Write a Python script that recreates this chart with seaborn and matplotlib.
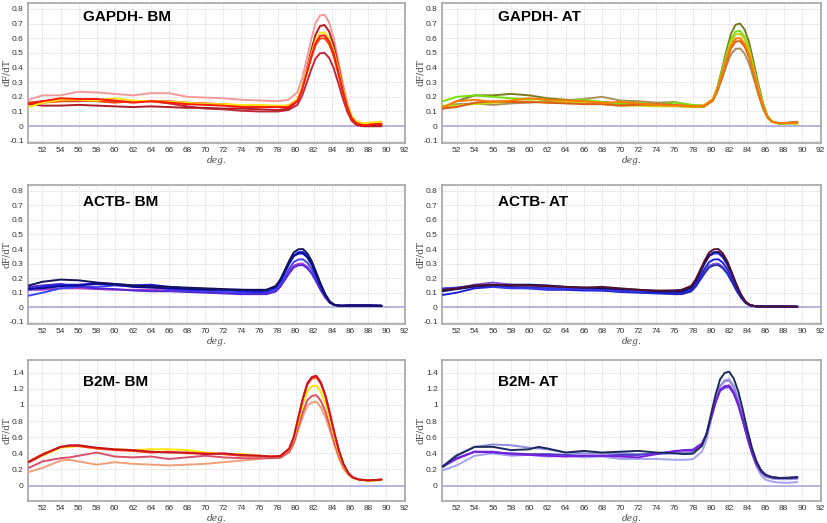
import matplotlib
matplotlib.use("Agg")
import matplotlib.pyplot as plt
import pandas as pd
import seaborn as sns

# ---- temperature grids (deg.) ----
T_GAPDH = [50.5, 52, 54, 56, 58, 60, 62, 64, 66, 68, 70, 72, 74, 76, 78,
           79.2, 80.2, 80.7, 81.2, 81.7, 82.2, 82.7, 83.2, 83.7, 84.2, 84.7, 85.2, 85.7, 86.2, 86.7,
           87.5, 88.5, 89.5]
T_ACTB = [50.5, 52, 54, 56, 58, 60, 62, 64, 66, 68, 70, 72, 74, 76,
          76.8, 77.8, 78.3, 78.8, 79.3, 79.8, 80.3, 80.8, 81.3, 81.8, 82.3, 82.8, 83.3, 83.8, 84.3,
          85, 86, 88, 89.5]
T_B2M_BM = [50.5, 52, 54, 55, 56, 58, 60, 62, 64, 66, 68, 70, 72, 74, 76, 77.3,
            78.3, 79.3, 79.8, 80.3, 80.8, 81.3, 81.8, 82.3, 82.8, 83.3, 83.8, 84.3, 84.8, 85.3, 85.8, 86.3,
            87, 88, 89, 89.5]
T_B2M_AT = [50.5, 52, 54, 56, 58, 60, 61, 62, 64, 66, 68, 70, 72, 74, 76, 77,
            78, 79, 79.5, 80, 80.5, 81, 81.5, 82, 82.5, 83, 83.5, 84, 84.5, 85, 85.5, 86,
            86.7, 87.5, 88.5, 89.5]

# ---- GAPDH - BM ----
gapdh_bm_pink = [0.18, 0.21, 0.21, 0.235, 0.23, 0.22, 0.21, 0.225, 0.225, 0.20, 0.195, 0.19, 0.18, 0.175, 0.17,
                 0.18, 0.231, 0.321, 0.449, 0.585, 0.701, 0.755, 0.76, 0.708, 0.606, 0.456, 0.299, 0.161, 0.065, 0.023,
                 0.003, 0.01, 0.012]
gapdh_bm_brick = [0.16, 0.17, 0.17, 0.17, 0.18, 0.165, 0.17, 0.17, 0.155, 0.135, 0.12, 0.115, 0.105, 0.10, 0.10,
                  0.11, 0.145, 0.205, 0.29, 0.382, 0.46, 0.497, 0.50, 0.466, 0.398, 0.298, 0.194, 0.101, 0.037, 0.009,
                  0.0, 0.0, 0.0]
gapdh_bm_darkred = [0.15, 0.14, 0.14, 0.145, 0.14, 0.135, 0.13, 0.135, 0.13, 0.125, 0.125, 0.12, 0.12, 0.115, 0.11,
                    0.12, 0.169, 0.255, 0.378, 0.509, 0.623, 0.683, 0.69, 0.647, 0.555, 0.417, 0.272, 0.143, 0.051, 0.013,
                    0.0, 0.0, 0.0]
gapdh_bm_yellow = [0.13, 0.16, 0.18, 0.18, 0.175, 0.19, 0.175, 0.17, 0.165, 0.16, 0.15, 0.15, 0.145, 0.145, 0.14,
                   0.14, 0.184, 0.260, 0.368, 0.483, 0.583, 0.635, 0.64, 0.600, 0.519, 0.396, 0.266, 0.151, 0.071, 0.036,
                   0.02, 0.025, 0.03]
gapdh_bm_orange = [0.16, 0.16, 0.17, 0.175, 0.17, 0.16, 0.17, 0.17, 0.17, 0.16, 0.155, 0.15, 0.14, 0.14, 0.135,
                   0.14, 0.181, 0.252, 0.354, 0.46, 0.552, 0.597, 0.60, 0.56, 0.48, 0.362, 0.238, 0.13, 0.053, 0.02,
                   0.008, 0.015, 0.02]
gapdh_bm_red = [0.15, 0.17, 0.19, 0.185, 0.185, 0.175, 0.16, 0.17, 0.16, 0.15, 0.145, 0.14, 0.13, 0.13, 0.13,
                0.13, 0.173, 0.247, 0.354, 0.467, 0.565, 0.615, 0.62, 0.58, 0.498, 0.376, 0.248, 0.135, 0.055, 0.021,
                0.005, 0.012, 0.015]

# ---- GAPDH - AT ----
gapdh_at_khaki = [0.12, 0.15, 0.155, 0.145, 0.155, 0.16, 0.17, 0.175, 0.185, 0.20, 0.175, 0.17, 0.16, 0.165, 0.14,
                  0.14, 0.175, 0.236, 0.322, 0.413, 0.491, 0.527, 0.53, 0.494, 0.425, 0.323, 0.216, 0.122, 0.057, 0.029,
                  0.02, 0.025, 0.03]
gapdh_at_olive = [0.12, 0.17, 0.21, 0.21, 0.22, 0.21, 0.19, 0.18, 0.17, 0.165, 0.15, 0.15, 0.14, 0.14, 0.13,
                  0.13, 0.179, 0.264, 0.386, 0.516, 0.63, 0.692, 0.70, 0.659, 0.569, 0.433, 0.289, 0.161, 0.071, 0.033,
                  0.018, 0.02, 0.025]
gapdh_at_green = [0.17, 0.20, 0.21, 0.20, 0.19, 0.185, 0.18, 0.17, 0.18, 0.165, 0.155, 0.16, 0.145, 0.16, 0.145,
                  0.14, 0.185, 0.262, 0.372, 0.49, 0.592, 0.645, 0.65, 0.609, 0.526, 0.40, 0.266, 0.148, 0.067, 0.031,
                  0.015, 0.018, 0.02]
gapdh_at_lime = [0.14, 0.14, 0.15, 0.16, 0.165, 0.17, 0.16, 0.165, 0.16, 0.15, 0.14, 0.14, 0.135, 0.135, 0.13,
                 0.13, 0.173, 0.249, 0.356, 0.471, 0.571, 0.625, 0.63, 0.592, 0.51, 0.388, 0.26, 0.145, 0.065, 0.031,
                 0.02, 0.02, 0.015]
gapdh_at_rust = [0.12, 0.13, 0.16, 0.17, 0.165, 0.165, 0.16, 0.155, 0.15, 0.15, 0.14, 0.145, 0.15, 0.145, 0.135,
                 0.135, 0.174, 0.243, 0.339, 0.443, 0.531, 0.577, 0.58, 0.542, 0.468, 0.356, 0.238, 0.134, 0.061, 0.03,
                 0.02, 0.022, 0.025]
gapdh_at_orange = [0.13, 0.17, 0.18, 0.165, 0.175, 0.19, 0.18, 0.175, 0.17, 0.16, 0.165, 0.155, 0.145, 0.14, 0.135,
                   0.14, 0.181, 0.251, 0.351, 0.458, 0.55, 0.597, 0.60, 0.561, 0.484, 0.368, 0.245, 0.137, 0.063, 0.03,
                   0.02, 0.022, 0.025]

# ---- ACTB - BM ----
actb_bm_magenta = [0.12, 0.12, 0.13, 0.13, 0.125, 0.12, 0.12, 0.12, 0.115, 0.11, 0.105, 0.10, 0.10, 0.095,
                   0.10, 0.119, 0.151, 0.198, 0.246, 0.286, 0.298, 0.30, 0.277, 0.236, 0.178, 0.118, 0.067, 0.031, 0.015,
                   0.01, 0.012, 0.012, 0.01]
actb_bm_royal = [0.08, 0.10, 0.13, 0.14, 0.14, 0.15, 0.145, 0.14, 0.125, 0.115, 0.11, 0.105, 0.10, 0.10,
                 0.10, 0.121, 0.157, 0.211, 0.265, 0.311, 0.328, 0.33, 0.306, 0.261, 0.197, 0.131, 0.073, 0.033, 0.015,
                 0.01, 0.012, 0.012, 0.01]
actb_bm_violet = [0.14, 0.15, 0.16, 0.14, 0.13, 0.125, 0.115, 0.11, 0.11, 0.105, 0.10, 0.095, 0.09, 0.09,
                  0.09, 0.108, 0.14, 0.187, 0.234, 0.274, 0.288, 0.29, 0.268, 0.23, 0.174, 0.115, 0.066, 0.03, 0.015,
                  0.01, 0.012, 0.012, 0.01]
actb_bm_blue = [0.12, 0.14, 0.155, 0.155, 0.165, 0.16, 0.15, 0.155, 0.14, 0.13, 0.125, 0.12, 0.11, 0.105,
                0.11, 0.135, 0.177, 0.238, 0.303, 0.357, 0.378, 0.38, 0.352, 0.301, 0.227, 0.15, 0.083, 0.037, 0.016,
                0.01, 0.012, 0.012, 0.01]
actb_bm_dark = [0.13, 0.13, 0.145, 0.15, 0.16, 0.155, 0.14, 0.135, 0.13, 0.125, 0.12, 0.12, 0.12, 0.115,
                0.12, 0.143, 0.183, 0.242, 0.302, 0.352, 0.368, 0.37, 0.342, 0.29, 0.218, 0.144, 0.081, 0.035, 0.016,
                0.01, 0.012, 0.012, 0.01]
actb_bm_navy = [0.15, 0.175, 0.19, 0.185, 0.17, 0.16, 0.15, 0.145, 0.14, 0.135, 0.13, 0.125, 0.12, 0.12,
                0.12, 0.146, 0.19, 0.255, 0.321, 0.377, 0.398, 0.40, 0.37, 0.315, 0.237, 0.157, 0.088, 0.038, 0.017,
                0.01, 0.012, 0.012, 0.01]

# ---- ACTB - AT ----
actb_at_purple = [0.12, 0.13, 0.155, 0.17, 0.155, 0.145, 0.14, 0.135, 0.13, 0.125, 0.115, 0.11, 0.10, 0.095,
                  0.10, 0.119, 0.151, 0.198, 0.246, 0.286, 0.298, 0.30, 0.277, 0.236, 0.178, 0.118, 0.067, 0.031, 0.013,
                  0.006, 0.005, 0.005, 0.004]
actb_at_indigo = [0.125, 0.125, 0.14, 0.15, 0.14, 0.135, 0.13, 0.125, 0.12, 0.115, 0.105, 0.10, 0.095, 0.09,
                  0.09, 0.108, 0.14, 0.187, 0.234, 0.274, 0.288, 0.29, 0.268, 0.23, 0.174, 0.115, 0.066, 0.03, 0.013,
                  0.006, 0.005, 0.005, 0.004]
actb_at_blue = [0.085, 0.10, 0.13, 0.14, 0.135, 0.13, 0.12, 0.12, 0.115, 0.115, 0.11, 0.105, 0.10, 0.10,
                0.10, 0.121, 0.157, 0.211, 0.265, 0.311, 0.328, 0.33, 0.306, 0.261, 0.197, 0.131, 0.073, 0.033, 0.013,
                0.006, 0.005, 0.005, 0.004]
actb_at_royal = [0.13, 0.135, 0.15, 0.14, 0.13, 0.13, 0.125, 0.13, 0.125, 0.12, 0.115, 0.11, 0.11, 0.115,
                 0.12, 0.143, 0.183, 0.242, 0.302, 0.352, 0.368, 0.37, 0.342, 0.29, 0.218, 0.144, 0.081, 0.035, 0.014,
                 0.006, 0.005, 0.005, 0.004]
actb_at_navy = [0.11, 0.125, 0.145, 0.15, 0.155, 0.155, 0.15, 0.14, 0.135, 0.13, 0.125, 0.12, 0.11, 0.11,
                0.11, 0.135, 0.177, 0.238, 0.303, 0.357, 0.378, 0.38, 0.352, 0.301, 0.227, 0.15, 0.083, 0.037, 0.014,
                0.006, 0.005, 0.005, 0.004]
actb_at_maroon = [0.12, 0.13, 0.15, 0.155, 0.15, 0.15, 0.145, 0.14, 0.135, 0.14, 0.13, 0.12, 0.115, 0.115,
                  0.12, 0.146, 0.19, 0.255, 0.321, 0.377, 0.398, 0.40, 0.37, 0.315, 0.237, 0.157, 0.088, 0.038, 0.015,
                  0.006, 0.005, 0.005, 0.004]

# ---- B2M - BM ----
b2m_bm_salmon = [0.17, 0.22, 0.31, 0.32, 0.30, 0.26, 0.29, 0.27, 0.26, 0.25, 0.26, 0.27, 0.29, 0.31, 0.33, 0.35,
                 0.344, 0.413, 0.516, 0.691, 0.858, 0.99, 1.03, 1.04, 0.97, 0.848, 0.679, 0.495, 0.337, 0.214, 0.137, 0.095,
                 0.075, 0.065, 0.07, 0.075]
b2m_bm_rose = [0.22, 0.30, 0.34, 0.35, 0.37, 0.41, 0.36, 0.35, 0.36, 0.33, 0.35, 0.37, 0.35, 0.34, 0.34, 0.34,
               0.345, 0.42, 0.533, 0.727, 0.911, 1.058, 1.11, 1.12, 1.047, 0.917, 0.734, 0.534, 0.362, 0.228, 0.143, 0.097,
               0.075, 0.065, 0.07, 0.075]
b2m_bm_yellow = [0.29, 0.37, 0.47, 0.48, 0.49, 0.46, 0.45, 0.44, 0.45, 0.45, 0.44, 0.41, 0.39, 0.39, 0.37, 0.36,
                 0.365, 0.449, 0.577, 0.793, 1.002, 1.167, 1.228, 1.24, 1.16, 1.016, 0.812, 0.59, 0.397, 0.247, 0.152, 0.101,
                 0.072, 0.06, 0.065, 0.07]
b2m_bm_red = [0.30, 0.39, 0.48, 0.49, 0.49, 0.46, 0.44, 0.43, 0.41, 0.42, 0.40, 0.40, 0.39, 0.37, 0.37, 0.36,
              0.366, 0.458, 0.599, 0.837, 1.068, 1.252, 1.325, 1.34, 1.258, 1.102, 0.881, 0.639, 0.428, 0.264, 0.16, 0.104,
              0.075, 0.065, 0.07, 0.075]
b2m_bm_darkred = [0.29, 0.38, 0.48, 0.50, 0.50, 0.47, 0.45, 0.44, 0.42, 0.41, 0.41, 0.39, 0.40, 0.38, 0.37, 0.36,
                  0.366, 0.46, 0.603, 0.846, 1.081, 1.269, 1.345, 1.36, 1.277, 1.119, 0.895, 0.649, 0.434, 0.268, 0.162, 0.104,
                  0.075, 0.065, 0.07, 0.075]

# ---- B2M - AT ----
b2m_at_lavender = [0.19, 0.25, 0.37, 0.40, 0.37, 0.38, 0.37, 0.36, 0.37, 0.35, 0.36, 0.33, 0.33, 0.33, 0.32, 0.32,
                   0.326, 0.42, 0.562, 0.805, 1.039, 1.228, 1.305, 1.32, 1.238, 1.081, 0.86, 0.616, 0.402, 0.237, 0.131, 0.074,
                   0.05, 0.037, 0.035, 0.045]
b2m_at_lilac = [0.24, 0.38, 0.48, 0.51, 0.50, 0.47, 0.46, 0.45, 0.41, 0.40, 0.40, 0.40, 0.39, 0.39, 0.40, 0.41,
                0.415, 0.502, 0.632, 0.854, 1.067, 1.235, 1.29, 1.30, 1.214, 1.059, 0.847, 0.617, 0.417, 0.262, 0.164, 0.112,
                0.088, 0.08, 0.08, 0.085]
b2m_at_violet = [0.23, 0.34, 0.42, 0.41, 0.40, 0.39, 0.39, 0.39, 0.38, 0.37, 0.37, 0.38, 0.38, 0.40, 0.42, 0.44,
                 0.445, 0.523, 0.639, 0.838, 1.026, 1.173, 1.212, 1.22, 1.136, 0.992, 0.797, 0.586, 0.405, 0.265, 0.176, 0.129,
                 0.105, 0.095, 0.10, 0.105]
b2m_at_purple = [0.24, 0.33, 0.42, 0.42, 0.39, 0.38, 0.375, 0.37, 0.36, 0.37, 0.37, 0.36, 0.35, 0.39, 0.43, 0.435,
                 0.435, 0.515, 0.635, 0.839, 1.034, 1.186, 1.232, 1.24, 1.156, 1.012, 0.813, 0.598, 0.412, 0.269, 0.178, 0.129,
                 0.105, 0.095, 0.095, 0.10]
b2m_at_navy = [0.24, 0.37, 0.48, 0.48, 0.44, 0.45, 0.48, 0.46, 0.41, 0.43, 0.41, 0.42, 0.43, 0.41, 0.40, 0.39,
               0.396, 0.492, 0.637, 0.886, 1.124, 1.316, 1.395, 1.41, 1.326, 1.166, 0.939, 0.688, 0.47, 0.301, 0.193, 0.135,
               0.105, 0.095, 0.095, 0.105]

SMALL_TICKS = [-0.1, 0, 0.1, 0.2, 0.3, 0.4, 0.5, 0.6, 0.7, 0.8]
SMALL_LABELS = ["-0.1", "0", "0.1", "0.2", "0.3", "0.4", "0.5", "0.6", "0.7", "0.8"]
BIG_TICKS = [0, 0.2, 0.4, 0.6, 0.8, 1.0, 1.2, 1.4]
BIG_LABELS = ["0", "0.2", "0.4", "0.6", "0.8", "1", "1.2", "1.4"]
X_TICKS = list(range(52, 93, 2))

panels = [
    ("GAPDH- BM", T_GAPDH, [(gapdh_bm_pink, "#f29a9a"), (gapdh_bm_brick, "#c0283a"), (gapdh_bm_darkred, "#b01c24"),
                           (gapdh_bm_orange, "#f04a10"), (gapdh_bm_yellow, "#ffe61a"), (gapdh_bm_red, "#ff1a00")]),
    ("GAPDH- AT", T_GAPDH, [(gapdh_at_khaki, "#a89058"), (gapdh_at_olive, "#7d7a1e"), (gapdh_at_green, "#78e010"),
                           (gapdh_at_lime, "#c2d810"), (gapdh_at_rust, "#e05a18"), (gapdh_at_orange, "#ff7a00")]),
    ("ACTB- BM", T_ACTB, [(actb_bm_magenta, "#b43cc8"), (actb_bm_royal, "#3c46ff"), (actb_bm_violet, "#5028d8"),
                         (actb_bm_blue, "#1e1ee0"), (actb_bm_dark, "#0a0a9a"), (actb_bm_navy, "#14145a")]),
    ("ACTB- AT", T_ACTB, [(actb_at_purple, "#7a5ad0"), (actb_at_indigo, "#2a2ab0"), (actb_at_blue, "#2020d8"),
                         (actb_at_royal, "#3a3af0"), (actb_at_navy, "#101068"), (actb_at_maroon, "#50102e")]),
    ("B2M- BM", T_B2M_BM, [(b2m_bm_salmon, "#f0a078"), (b2m_bm_rose, "#d8506a"), (b2m_bm_yellow, "#ffe600"),
                          (b2m_bm_red, "#ff3a1a"), (b2m_bm_darkred, "#c8141e")]),
    ("B2M- AT", T_B2M_AT, [(b2m_at_lavender, "#a4a4ee"), (b2m_at_lilac, "#8c8cd8"), (b2m_at_violet, "#4c3cc8"),
                          (b2m_at_purple, "#7a1ee0"), (b2m_at_navy, "#1c2a5c")]),
]

sns.set_style("whitegrid", {"grid.color": "#cfcfcf", "grid.linestyle": ":", "axes.edgecolor": "#a6a6a6"})
plt.rcParams["font.family"] = ["Liberation Sans", "DejaVu Sans"]

fig = plt.figure(figsize=(8.27, 5.23), dpi=100)
W, H = 827.0, 523.0
cols = [(28, 405), (442, 821)]
rows = [(3, 143), (185, 324), (360, 501)]

for i, (title, temps, curves) in enumerate(panels):
    r, c = divmod(i, 2)
    x0, x1 = cols[c]
    y0, y1 = rows[r]
    ax = fig.add_axes([x0 / W, 1 - y1 / H, (x1 - x0) / W, (y1 - y0) / H])

    frames = []
    palette = {}
    for k, (vals, color) in enumerate(curves):
        name = f"run{k}"
        frames.append(pd.DataFrame({"deg": temps, "dFdT": vals, "run": name}))
        palette[name] = color
    df = pd.concat(frames, ignore_index=True)

    ax.axhline(0, color="#a9a9dc", lw=1.2, zorder=1)
    sns.lineplot(data=df, x="deg", y="dFdT", hue="run", palette=palette, estimator=None,
                 sort=False, legend=False, lw=1.4, ax=ax, zorder=3)

    ax.set_xlim(50.4, 92.1)
    ax.set_xticks(X_TICKS)
    ax.set_xticklabels([str(t) for t in X_TICKS])
    if r < 2:
        ax.set_ylim(-0.115, 0.84)
        ax.set_yticks(SMALL_TICKS)
        ax.set_yticklabels(SMALL_LABELS)
    else:
        ax.set_ylim(-0.19, 1.555)
        ax.set_yticks(BIG_TICKS)
        ax.set_yticklabels(BIG_LABELS)

    ax.grid(True, lw=0.7)
    ax.tick_params(length=0, labelsize=6, colors="#333333", pad=3)
    for sp in ax.spines.values():
        sp.set_color("#a6a6a6")
        sp.set_linewidth(1.2)

    ax.set_xlabel("deg.", fontsize=6.5, family="DejaVu Serif", style="italic", color="#444444")
    ax.set_ylabel("dF/dT", fontsize=6.5, family="DejaVu Serif", color="#444444")
    ax.xaxis.set_label_coords(0.5, -13 / (y1 - y0))
    ax.yaxis.set_label_coords(-17 / (x1 - x0), 0.5)

    ty = 0.90 if r == 0 else (0.88 if r == 1 else 0.845)
    ax.text(0.147, ty, title, transform=ax.transAxes, fontsize=11, fontweight="bold",
            va="center", ha="left", color="black")

fig.savefig("out.png", dpi=100)
